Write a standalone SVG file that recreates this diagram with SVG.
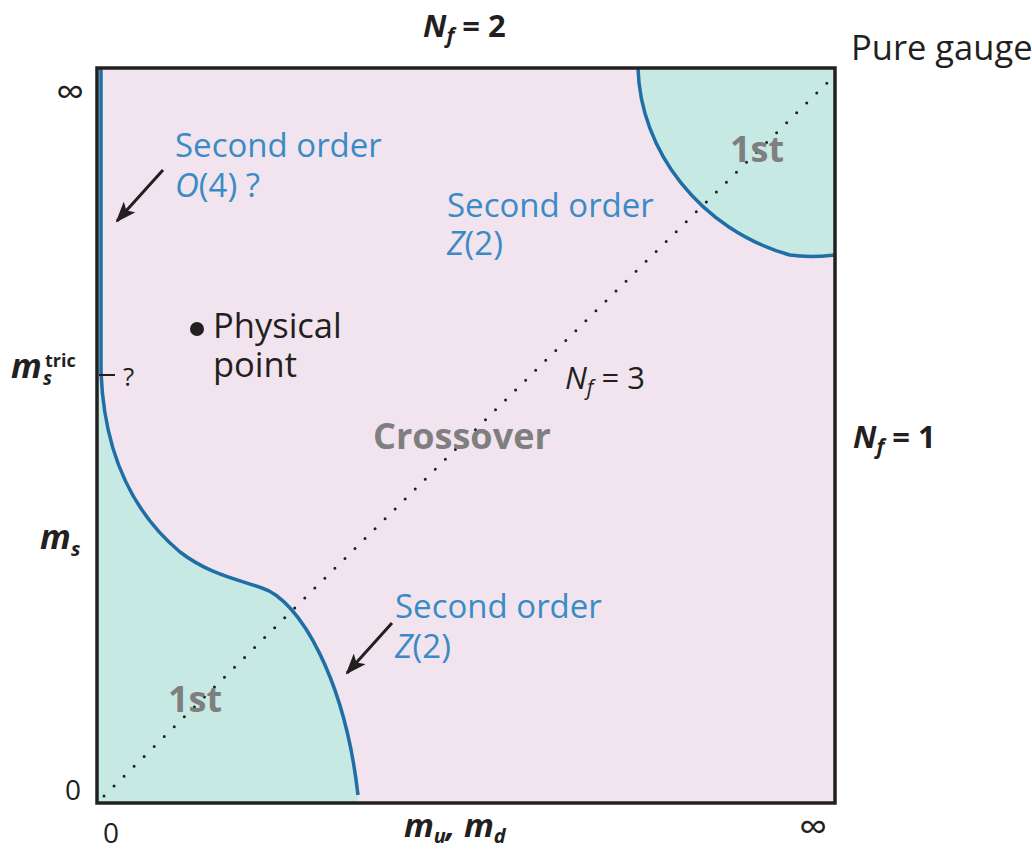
<svg xmlns="http://www.w3.org/2000/svg" width="1032" height="851" viewBox="0 0 1032 851">
<style>
text { font-family: "Open Sans", "Liberation Sans", sans-serif; fill: #231f20; }
.lbl { font-size: 34.5px; }
.blue { font-size: 33px; fill: #3a8bc5; }
.gray { font-size: 36px; font-weight: 700; fill: #7f7f7f; }
.nf { font-size: 31px; }
.math { font-weight: 700; font-style: italic; }
.curve { fill: none; stroke: #1f6fa6; stroke-width: 3.5; }
.arrow { stroke: #231f20; stroke-width: 3; fill: none; marker-end: url(#ah); }
</style>
<defs>
<marker id="ah" markerUnits="userSpaceOnUse" markerWidth="21" markerHeight="16" viewBox="0 0 21 16" refX="19" refY="8" orient="auto">
<path d="M0,0 L21,8 L0,16 L5,8 z" fill="#231f20"/>
</marker>
</defs>
<rect width="1032" height="851" fill="#ffffff"/>
<g id="plane">
<rect x="97" y="68" width="738" height="735" fill="#f1e4ef"/>
<path id="first-order-low" d="M101,68 L101,372 C104,450 130,510 180,552 C210,575 240,580 262,588 C300,600 345,680 358,795 L358,803 L97,803 L97,68 Z" fill="#c6e9e3"/>
<path id="first-order-high" d="M638,68 C640,150 700,230 790,255 C810,258 825,256 835,255 L835,68 Z" fill="#c6e9e3"/>
</g>
<g id="connectors">
<path class="curve" d="M101,68 L101,372 C104,450 130,510 180,552 C210,575 240,580 262,588 C300,600 345,680 358,795"/>
<path class="curve" d="M638,68 C640,150 700,230 790,255 C810,258 825,256 835,255"/>
<line x1="104" y1="796" x2="830" y2="80" stroke="#231f20" stroke-width="3" stroke-linecap="round" stroke-dasharray="0 14.1"/>
<line class="arrow" x1="163" y1="170" x2="117" y2="221"/>
<line class="arrow" x1="392" y1="623" x2="347" y2="673"/>
<line x1="99" y1="375" x2="115" y2="375" stroke="#231f20" stroke-width="2"/>
<rect x="97" y="68" width="738" height="735" fill="none" stroke="#231f20" stroke-width="3.5"/>
</g>
<g id="nf2"><text x="423" y="37" class="nf" font-weight="700"><tspan font-style="italic">N</tspan><tspan font-style="italic" font-size="21" dy="6">f</tspan><tspan dy="-6"> = 2</tspan></text></g>
<g id="pure-gauge"><text x="851" y="60" class="lbl">Pure gauge</text></g>
<g id="nf1"><text x="853" y="448" class="nf" font-weight="700"><tspan font-style="italic">N</tspan><tspan font-style="italic" font-size="21" dy="6">f</tspan><tspan dy="-6"> = 1</tspan></text></g>
<g id="nf3"><text x="565" y="389" class="nf"><tspan font-style="italic">N</tspan><tspan font-style="italic" font-size="21" dy="6">f</tspan><tspan dy="-6"> = 3</tspan></text></g>
<g id="so-o4"><text x="175" y="157" class="blue">Second order</text><text x="175" y="197" class="blue"><tspan font-style="italic">O</tspan>(4) ?</text></g>
<g id="so-z2-upper"><text x="447" y="217" class="blue">Second order</text><text x="447" y="255" class="blue"><tspan font-style="italic">Z</tspan>(2)</text></g>
<g id="so-z2-lower"><text x="395" y="618" class="blue">Second order</text><text x="395" y="658" class="blue"><tspan font-style="italic">Z</tspan>(2)</text></g>
<g id="first-upper"><text x="730" y="162" class="gray">1st</text></g>
<g id="first-lower"><text x="168" y="712" class="gray">1st</text></g>
<g id="crossover"><text x="373" y="449" class="gray">Crossover</text></g>
<g id="physical-point"><circle cx="197" cy="329" r="7" fill="#231f20"/><text x="213" y="338" class="lbl">Physical</text><text x="213" y="377" class="lbl">point</text></g>
<g id="axis-labels">
<text x="70" y="106" font-size="40" text-anchor="middle">∞</text>
<text x="813" y="841" font-size="40" text-anchor="middle">∞</text>
<text x="73" y="800" font-size="28" text-anchor="middle">0</text>
<text x="111" y="843" font-size="28" text-anchor="middle">0</text>
<text x="11" y="378" class="math" font-size="34">m</text>
<text x="45" y="367" font-size="18" font-weight="700">tric</text>
<text x="43" y="385" class="math" font-size="19">s</text>
<text x="123" y="386" font-size="26">?</text>
<text x="40" y="549" class="math" font-size="34">m</text>
<text x="71" y="556" class="math" font-size="20">s</text>
<text x="404" y="837" class="math" font-size="33">m<tspan font-size="20" dy="6">u</tspan><tspan dy="-6">, m</tspan><tspan font-size="20" dy="6">d</tspan></text>
</g>
</svg>
